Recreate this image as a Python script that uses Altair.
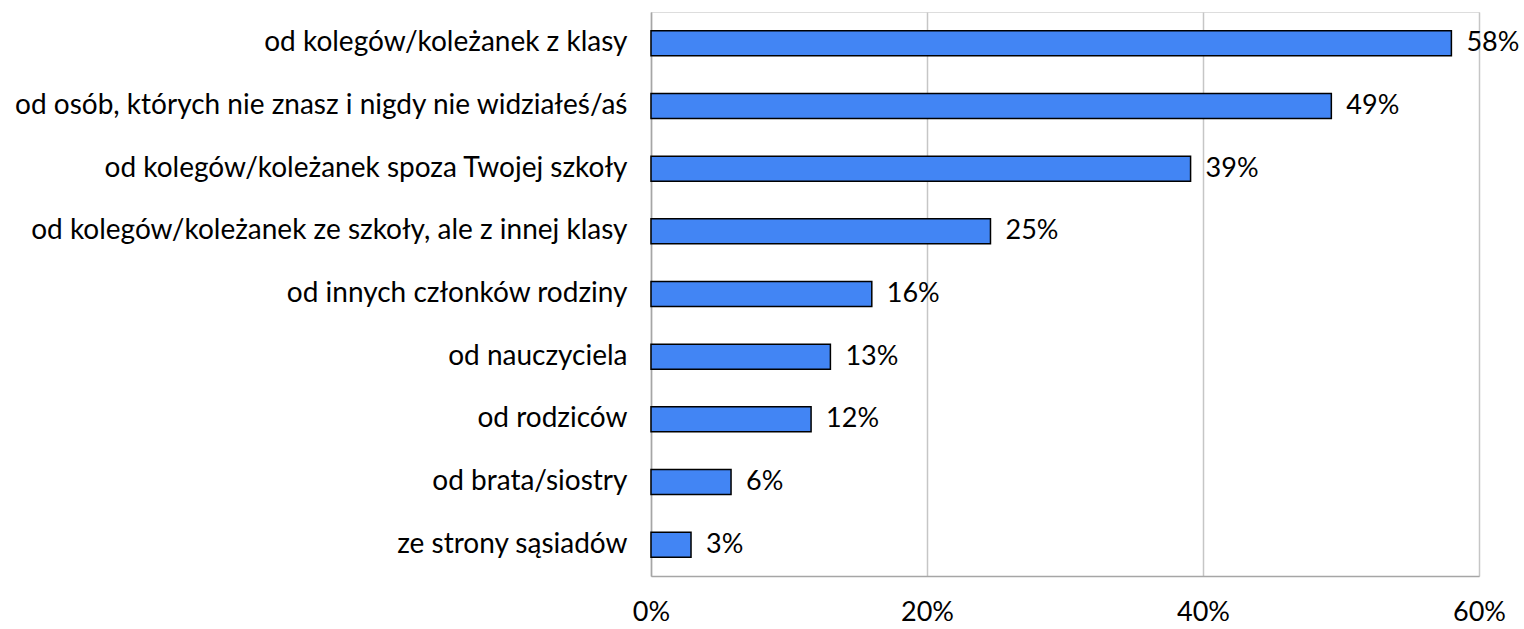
import altair as alt
import pandas as pd

categories = [
    "od kolegów/koleżanek z klasy",
    "od osób, których nie znasz i nigdy nie widziałeś/aś",
    "od kolegów/koleżanek spoza Twojej szkoły",
    "od kolegów/koleżanek ze szkoły, ale z innej klasy",
    "od innych członków rodziny",
    "od nauczyciela",
    "od rodziców",
    "od brata/siostry",
    "ze strony sąsiadów",
]
values = [58.0, 49.3, 39.1, 24.6, 16.0, 13.0, 11.6, 5.8, 2.9]
labels = ["58%", "49%", "39%", "25%", "16%", "13%", "12%", "6%", "3%"]

df = pd.DataFrame({"cat": categories, "val": values, "lab": labels})

FONT = "Lato"

y_enc = alt.Y(
    "cat:N",
    sort=None,
    title=None,
    scale=alt.Scale(paddingInner=0.6, paddingOuter=0.3),
    axis=alt.Axis(
        ticks=False,
        domain=True,
        domainColor="#a6a6a6",
        domainWidth=1.5,
        labelFont=FONT,
        labelFontSize=28,
        labelColor="#000000",
        labelPadding=24,
        labelLimit=0,
    ),
)

x_enc = alt.X(
    "val:Q",
    title=None,
    scale=alt.Scale(domain=[0, 60], nice=False),
    axis=alt.Axis(
        values=[0, 20, 40, 60],
        labelExpr="datum.value + '%'",
        ticks=False,
        domain=True,
        domainColor="#a6a6a6",
        domainWidth=1.5,
        grid=True,
        gridColor="#c6c6c6",
        gridWidth=1.5,
        labelFont=FONT,
        labelFontSize=27,
        labelColor="#000000",
        labelPadding=23,
        labelFlush=False,
        labelOverlap=False,
    ),
)

bars = alt.Chart(df).mark_bar(
    color="#4285F4", stroke="#000000", strokeWidth=1.5
).encode(x=x_enc, y=y_enc)

text = alt.Chart(df).mark_text(
    align="left", baseline="middle", dx=15, font=FONT, fontSize=27, color="#000000"
).encode(x="val:Q", y=alt.Y("cat:N", sort=None), text="lab:N")

chart = (
    alt.layer(bars, text)
    .properties(
        width=828,
        height=564,
        autosize=alt.AutoSizeParams(type="none"),
        padding={"left": 651, "top": 12, "right": 45, "bottom": 53},
    )
    .configure_view(stroke=None)
    .configure(background="#ffffff")
)

chart.save("out.html", embed_options={"renderer": "svg", "actions": False})
